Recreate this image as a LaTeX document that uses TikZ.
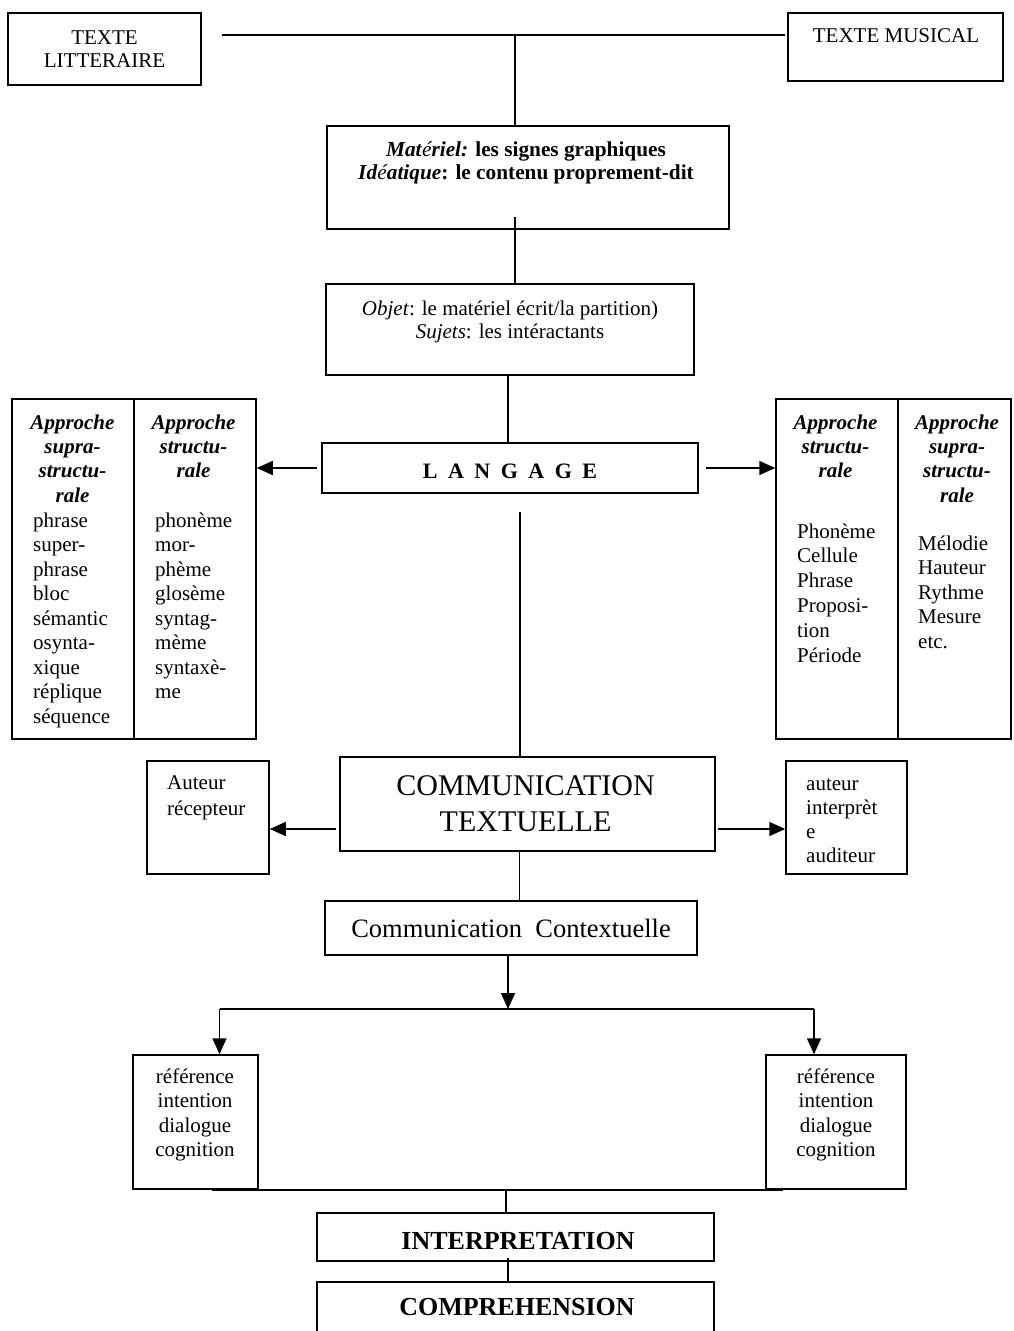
\documentclass[tikz,border=0pt]{standalone}
\usepackage{fontspec}
\setmainfont{Liberation Serif}
\usetikzlibrary{arrows.meta,calc}
\newcommand{\fs}[2]{\fontsize{#1}{#2}\selectfont}
\newcommand{\stackC}[1]{\begin{tabular}[t]{@{}c@{}}#1\end{tabular}}
\newcommand{\stackL}[1]{\begin{tabular}[t]{@{}l@{}}#1\end{tabular}}
\begin{document}
\begin{tikzpicture}[x=1pt,y=-1pt,
  box/.style={draw, line width=1.5pt, inner sep=0pt, rectangle},
  txt/.style={inner sep=0pt, anchor=base},
  ln/.style={line width=1.5pt},
  arr/.style={line width=1.5pt, -{Triangle[length=16pt,width=14pt]}}]
\useasboundingbox (0,0) rectangle (1013,1331);
\clip (0,0) rectangle (1013,1331);
\fill[white] (0,0) rectangle (1013,1331);

% boxes
\node[box, minimum width=193pt, minimum height=72pt] (lit) at (104.5,49) {};
\node[box, minimum width=215pt, minimum height=68pt] (mus) at (895.5,47) {};
\node[box, minimum width=402pt, minimum height=103pt] (mat) at (528,177.5) {};
\node[box, minimum width=368pt, minimum height=91pt] (obj) at (510,329.5) {};
\node[box, minimum width=376pt, minimum height=50pt] (lang) at (510,468) {};
\node[box, minimum width=122pt, minimum height=340pt] (L1) at (73,569) {};
\node[box, minimum width=122pt, minimum height=340pt] (L2) at (195,569) {};
\node[box, minimum width=122pt, minimum height=340pt] (R1) at (837,569) {};
\node[box, minimum width=113pt, minimum height=340pt] (R2) at (954.5,569) {};
\node[box, minimum width=375pt, minimum height=94pt] (comm) at (527.5,804) {};
\node[box, minimum width=122pt, minimum height=113pt] (aut) at (208,817.5) {};
\node[box, minimum width=121pt, minimum height=113pt] (aud) at (846.5,817.5) {};
\node[box, minimum width=372pt, minimum height=54pt] (ctx) at (511,928) {};
\node[box, minimum width=125pt, minimum height=134pt] (refL) at (195.5,1122) {};
\node[box, minimum width=140pt, minimum height=134pt] (refR) at (836,1122) {};
\node[box, minimum width=397pt, minimum height=48pt] (interp) at (515.5,1237) {};
\node[box, minimum width=397pt, minimum height=68pt] (compr) at (515.5,1316) {};

% texts
\node[txt] (litT) at (104.5,44) {\fs{21}{23}\stackC{TEXTE\\LITTERAIRE}};
\node[txt] (musT) at (896,42) {\fs{21}{23}TEXTE MUSICAL};
\node[txt] (matT) at (526,156) {\fs{21.3}{23.5}\bfseries\stackC{\textit{Mat}{\mdseries\itshape é}\textit{riel:} les signes graphiques\\\textit{Id}{\mdseries\itshape é}\textit{atique}: le contenu proprement-dit}};
\node[txt] (objT) at (510,315) {\fs{21}{23}\stackC{\textit{Objet}: le matériel écrit/la partition)\\\textit{Sujets}: les intéractants}};
\node[txt] (langT) at (510,478) {\fs{22}{24}\bfseries L\hspace{10.5pt}A\hspace{10.5pt}N\hspace{10.5pt}G\hspace{10.5pt}A\hspace{10.5pt}G\hspace{10.5pt}E};

\node[txt] (L1h) at (72.5,429) {\fs{21}{24.4}\bfseries\itshape\stackC{Approche\\supra-\\structu-\\rale}};
\node[txt, anchor=base west] (L1i) at (33,527) {\fs{21}{24.5}\stackL{phrase\\super-\\phrase\\bloc\\sémantic\\osynta-\\xique\\réplique\\séquence}};
\node[txt] (L2h) at (193.5,429) {\fs{21}{24.4}\bfseries\itshape\stackC{Approche\\structu-\\rale}};
\node[txt, anchor=base west] (L2i) at (155,527) {\fs{21}{24.5}\stackL{phonème\\mor-\\phème\\glosème\\syntag-\\mème\\syntaxè-\\me}};
\node[txt] (R1h) at (835.5,429) {\fs{21}{24.4}\bfseries\itshape\stackC{Approche\\structu-\\rale}};
\node[txt, anchor=base west] (R1i) at (797,538) {\fs{21}{24.8}\stackL{Phonème\\Cellule\\Phrase\\Proposi-\\tion\\Période}};
\node[txt] (R2h) at (957,429) {\fs{21}{24.4}\bfseries\itshape\stackC{Approche\\supra-\\structu-\\rale}};
\node[txt, anchor=base west] (R2i) at (918,550) {\fs{21}{24.5}\stackL{Mélodie\\Hauteur\\Rythme\\Mesure\\etc.}};

\node[txt] (commT) at (525.5,795) {\fs{30}{36}\stackC{COMMUNICATION\\TEXTUELLE}};
\node[txt, anchor=base west] (autT) at (167,789) {\fs{21}{26}\stackL{Auteur\\récepteur}};
\node[txt, anchor=base west] (audT) at (806,790) {\fs{21}{24.3}\stackL{auteur\\interprèt\\e\\auditeur}};
\node[txt] (ctxT) at (511,937) {\fs{26.5}{30}Communication\hspace{0.5em}Contextuelle};
\node[txt] (refLT) at (195,1083) {\fs{21}{24.5}\stackC{référence\\intention\\dialogue\\cognition}};
\node[txt] (refRT) at (836,1083) {\fs{21}{24.5}\stackC{référence\\intention\\dialogue\\cognition}};
\node[txt] (interpT) at (518,1249) {\fs{26}{30}\bfseries INTERPRETATION};
\node[txt] (comprT) at (517,1315) {\fs{26}{30}\bfseries COMPREHENSION};

% connector coordinates
\coordinate (tl) at (222,35);
\coordinate (tr) at (785,35);
\coordinate (tj) at (515,35);
\coordinate (m1) at (515,217);
\coordinate (o1) at (508,375);
\coordinate (l1) at (520,512);
\coordinate (ca) at (336,829);
\coordinate (cb) at (718,829);
\coordinate (c1) at (519.5,851);
\coordinate (j1) at (508,1009);
\coordinate (hl) at (219.5,1009);
\coordinate (hr) at (814,1009);
\coordinate (bl) at (212,1190);
\coordinate (br) at (783,1190);
\coordinate (bj) at (506,1190);
\coordinate (i1) at (508,1258);

% connectors
\draw[ln] (tl) -- (tr);
\draw[ln] (tj) -- (tj |- mat.north);
\draw[ln] (m1) -- (m1 |- obj.north);
\draw[ln] (o1) -- (o1 |- lang.north);
\draw[arr] ([xshift=-4pt]lang.west) -- (L2.east |- lang.west);
\draw[arr] ([xshift=7pt]lang.east) -- (R1.west |- lang.east);
\draw[ln] (l1) -- (l1 |- comm.north);
\draw[arr] (ca) -- (aut.east |- ca);
\draw[arr] (cb) -- (aud.west |- cb);
\draw[ln] (c1) -- (c1 |- ctx.north);
\draw[arr] (j1 |- ctx.south) -- (j1);
\draw[ln] (hl) -- (hr);
\draw[arr] (hl) -- (hl |- refL.north);
\draw[arr] (hr) -- (hr |- refR.north);
\draw[line width=2.2pt] (bl) -- (br);
\draw[ln] (bj) -- (bj |- interp.north);
\draw[ln] (i1) -- (i1 |- compr.north);
\end{tikzpicture}
\end{document}
